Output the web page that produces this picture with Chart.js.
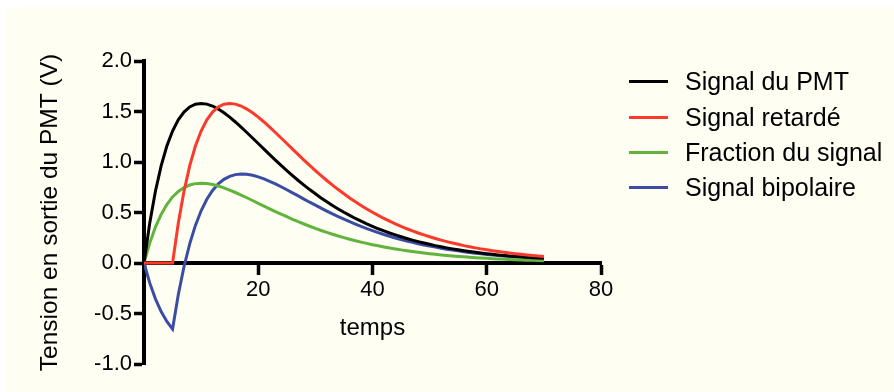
<!DOCTYPE html>
<html>
<head>
<meta charset="utf-8">
<script src="https://cdn.jsdelivr.net/npm/chart.js@4.4.1/dist/chart.umd.min.js"></script>
<style>
  html, body { margin: 0; padding: 0; background: #ffffff; }
  #wrap { position: relative; width: 894px; height: 392px; overflow: hidden; }
  #paper { position: absolute; left: 5px; top: 7px; right: 0; bottom: 0; background: #fefef3; }
  #c { position: absolute; left: 0; top: 0; }
  #legend { position: absolute; left: 629px; top: 0; font-family: "Liberation Sans", Arial, sans-serif; font-size: 25px; color: #000; }
  .row { position: absolute; left: 0; height: 36px; display: flex; align-items: center; white-space: nowrap; }
  .swatch { width: 39px; height: 3px; margin-right: 17px; }
</style>
</head>
<body>
<div id="wrap">
  <div id="paper"></div>
  <canvas id="c" width="894" height="392"></canvas>
  <div id="legend"></div>
</div>
<script>
// temps (x) and the four signals
const temps = [0, 1, 2, 3, 4, 5, 6, 7, 8, 9, 10, 11, 12, 13, 14, 15, 16, 17, 18, 19, 20,
  21, 22, 23, 24, 25, 26, 27, 28, 29, 30, 31, 32, 33, 34, 35, 36, 37, 38, 39, 40,
  41, 42, 43, 44, 45, 46, 47, 48, 49, 50, 51, 52, 53, 54, 55, 56, 57, 58, 59, 60,
  61, 62, 63, 64, 65, 66, 67, 68, 69, 70];

const signalPMT = [0, 0.394, 0.710, 0.962, 1.158, 1.307, 1.418, 1.495, 1.545, 1.572, 1.580,
  1.573, 1.554, 1.524, 1.487, 1.444, 1.396, 1.345, 1.292, 1.238, 1.183,
  1.127, 1.073, 1.019, 0.966, 0.915, 0.865, 0.817, 0.771, 0.727, 0.685,
  0.644, 0.606, 0.569, 0.535, 0.502, 0.471, 0.441, 0.414, 0.387, 0.363,
  0.339, 0.318, 0.297, 0.278, 0.260, 0.243, 0.227, 0.212, 0.198, 0.185,
  0.172, 0.161, 0.150, 0.140, 0.131, 0.122, 0.114, 0.106, 0.099, 0.092,
  0.086, 0.080, 0.075, 0.070, 0.065, 0.061, 0.056, 0.053, 0.049, 0.046];

const signalRetarde = [0, 0, 0, 0, 0, 0, 0.394, 0.710, 0.962, 1.158, 1.307,
  1.418, 1.495, 1.545, 1.572, 1.580, 1.573, 1.554, 1.524, 1.487, 1.444,
  1.396, 1.345, 1.292, 1.238, 1.183, 1.127, 1.073, 1.019, 0.966, 0.915,
  0.865, 0.817, 0.771, 0.727, 0.685, 0.644, 0.606, 0.569, 0.535, 0.502,
  0.471, 0.441, 0.414, 0.387, 0.363, 0.339, 0.318, 0.297, 0.278, 0.260,
  0.243, 0.227, 0.212, 0.198, 0.185, 0.172, 0.161, 0.150, 0.140, 0.131,
  0.122, 0.114, 0.106, 0.099, 0.092, 0.086, 0.080, 0.075, 0.070, 0.065];

const fractionSignal = [0, 0.197, 0.355, 0.481, 0.579, 0.654, 0.709, 0.747, 0.772, 0.786, 0.790,
  0.787, 0.777, 0.762, 0.744, 0.722, 0.698, 0.673, 0.646, 0.619, 0.591,
  0.564, 0.536, 0.509, 0.483, 0.458, 0.433, 0.409, 0.386, 0.364, 0.342,
  0.322, 0.303, 0.285, 0.267, 0.251, 0.235, 0.221, 0.207, 0.194, 0.181,
  0.170, 0.159, 0.149, 0.139, 0.130, 0.121, 0.113, 0.106, 0.099, 0.092,
  0.086, 0.080, 0.075, 0.070, 0.065, 0.061, 0.057, 0.053, 0.049, 0.046,
  0.043, 0.040, 0.037, 0.035, 0.032, 0.030, 0.028, 0.026, 0.025, 0.023];

const signalBipolaire = [0, -0.197, -0.355, -0.481, -0.579, -0.654, -0.315, -0.037, 0.190, 0.372, 0.517,
  0.631, 0.718, 0.783, 0.828, 0.858, 0.875, 0.881, 0.878, 0.868, 0.853,
  0.832, 0.809, 0.783, 0.755, 0.725, 0.694, 0.664, 0.633, 0.602, 0.573,
  0.543, 0.514, 0.486, 0.460, 0.434, 0.409, 0.385, 0.362, 0.341, 0.321,
  0.301, 0.282, 0.265, 0.248, 0.233, 0.218, 0.205, 0.191, 0.179, 0.168,
  0.157, 0.147, 0.137, 0.128, 0.120, 0.111, 0.104, 0.097, 0.091, 0.085,
  0.079, 0.074, 0.069, 0.064, 0.060, 0.056, 0.052, 0.049, 0.045, 0.042];

const seriesNames = ["Signal du PMT", "Signal retardé", "Fraction du signal", "Signal bipolaire"];
const seriesColors = ["#000000", "#fb3a2c", "#62b33e", "#3a4da2"];
const yTicks = [-1.0, -0.5, 0.0, 0.5, 1.0, 1.5, 2.0];
const xTicks = [20, 40, 60, 80];

const FONT = "'Liberation Sans', Arial, sans-serif";
const allSeries = [signalPMT, signalRetarde, fractionSignal, signalBipolaire];

const datasets = allSeries.map((vals, i) => ({
    label: seriesNames[i],
    data: temps.map((t, k) => ({ x: t, y: vals[k] })),
    borderColor: seriesColors[i],
    borderWidth: 3,
    pointRadius: 0,
    tension: 0,
    fill: false,
}));

// draw order: blue and green under black/red like the figure
datasets[3].order = 3;
datasets[2].order = 2;
datasets[1].order = 0;
datasets[0].order = 1;

new Chart(document.getElementById("c"), {
    type: "line",
    data: { datasets: datasets },
    options: {
        responsive: false,
        animation: false,
        layout: { padding: { left: 0, top: 61, right: 293, bottom: 28 } },
        plugins: { legend: { display: false }, tooltip: { enabled: false } },
        scales: {
            x: {
                type: "linear",
                position: { y: 0 },
                min: 0,
                max: 80,
                afterBuildTicks: (axis) => { axis.ticks = [0].concat(xTicks).map(v => ({ value: v })); },
                ticks: {
                    color: "#000",
                    font: { family: FONT, size: 22 },
                    padding: 4,
                    maxRotation: 0,
                    callback: (v) => (v === 0 ? "" : String(v)),
                },
                grid: { drawOnChartArea: false, drawTicks: true, tickLength: 10, tickWidth: 3.5, color: "#000" },
                border: { display: true, width: 4, color: "#000" },
                title: { display: true, text: "temps", color: "#000", font: { family: FONT, size: 24 }, padding: { top: 7, bottom: 0 } },
            },
            y: {
                min: -1,
                max: 2,
                afterBuildTicks: (axis) => { axis.ticks = yTicks.map(v => ({ value: v })); },
                afterFit: (axis) => { axis.width = 144; },
                ticks: {
                    color: "#000",
                    font: { family: FONT, size: 22 },
                    padding: 2,
                    callback: (v) => Number(v).toFixed(1),
                },
                grid: { drawOnChartArea: false, drawTicks: true, tickLength: 10, tickWidth: 3.5, color: "#000" },
                border: { display: true, width: 4, color: "#000" },
                title: { display: true, text: "Tension en sortie du PMT (V)", color: "#000", font: { family: FONT, size: 24.5 }, padding: { top: 36, bottom: 0 } },
            },
        },
    },
});

// legend as real text, rows centred on the reference line positions
const legendRows = [81.7, 117.0, 152.3, 187.7];
const legendEl = document.getElementById("legend");
seriesNames.forEach((name, i) => {
    const row = document.createElement("div");
    row.className = "row";
    row.style.top = (legendRows[i] - 18) + "px";
    const sw = document.createElement("div");
    sw.className = "swatch";
    sw.style.background = seriesColors[i];
    const label = document.createElement("span");
    label.textContent = name;
    row.appendChild(sw);
    row.appendChild(label);
    legendEl.appendChild(row);
});
</script>
</body>
</html>
